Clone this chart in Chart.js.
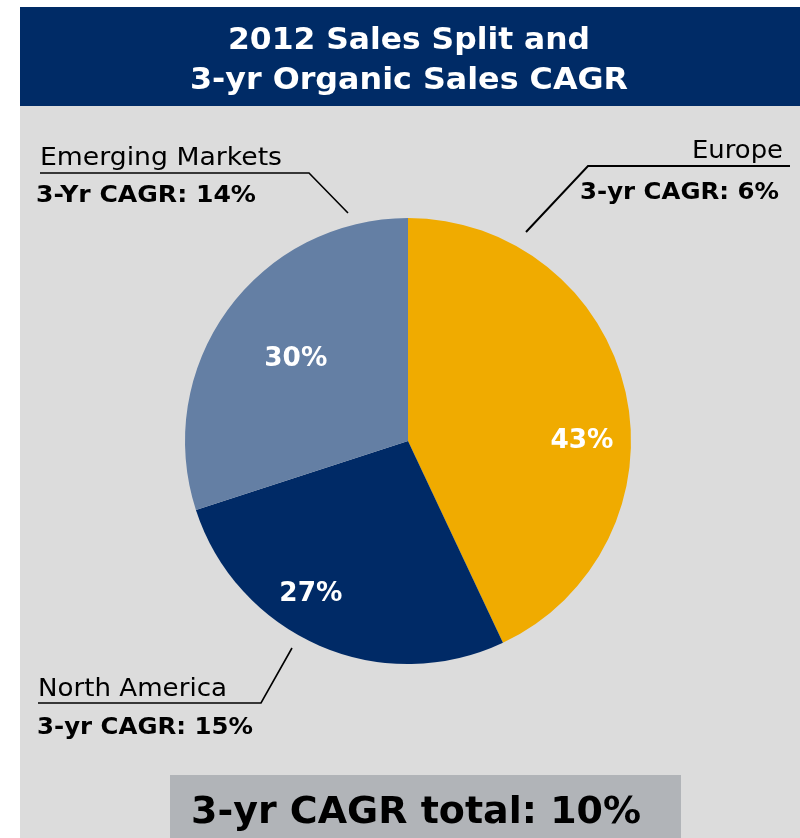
<!DOCTYPE html>
<html>
<head>
<meta charset="utf-8">
<script src="https://cdn.jsdelivr.net/npm/chart.js@4"></script>
<style>
html,body{margin:0;padding:0;background:#ffffff;}
canvas{display:block;}
</style>
</head>
<body>
<canvas id="c" width="800" height="838"></canvas>
<script>
// ---- data ----
const regions = ['Europe', 'North America', 'Emerging Markets'];
const salesShare = [43, 27, 30];
const cagrLabels = ['3-yr CAGR: 6%', '3-yr CAGR: 15%', '3-Yr CAGR: 14%'];
const titleLines = ['2012 Sales Split and', '3-yr Organic Sales CAGR'];
const totalLabel = '3-yr CAGR total: 10%';

// ---- style ----
const sliceColors = ['#F0AB00', '#002A66', '#647FA4'];
const FONT = '"DejaVu Sans", Verdana, sans-serif';

function fitText(ctx, text, x, y, font, color, align, width) {
  ctx.save();
  ctx.font = font;
  ctx.fillStyle = color;
  ctx.textBaseline = 'alphabetic';
  ctx.textAlign = align;
  const w = ctx.measureText(text).width;
  const sx = width ? width / w : 1;
  ctx.translate(x, y);
  ctx.scale(sx, 1);
  ctx.fillText(text, 0, 0);
  ctx.restore();
}
function poly(ctx, pts, lw) {
  ctx.save();
  ctx.strokeStyle = '#000000';
  ctx.lineWidth = lw;
  ctx.beginPath();
  ctx.moveTo(pts[0][0], pts[0][1]);
  for (let i = 1; i < pts.length; i++) ctx.lineTo(pts[i][0], pts[i][1]);
  ctx.stroke();
  ctx.restore();
}

// label placement inside slices: angle (deg clockwise from top) and radius fraction
const pctPlacement = [[89, 0.78], [213, 0.80], [307, 0.63]];

const decor = {
  id: 'decor',
  beforeDraw(chart) {
    const ctx = chart.ctx;
    ctx.save();
    ctx.fillStyle = '#ffffff';
    ctx.fillRect(0, 0, 800, 838);
    ctx.fillStyle = '#002B66';
    ctx.fillRect(20, 7, 780, 99);
    ctx.fillStyle = '#DCDCDC';
    ctx.fillRect(20, 106, 780, 732);
    ctx.fillStyle = '#B1B4B8';
    ctx.fillRect(170, 775, 511, 63);
    ctx.restore();
    fitText(ctx, titleLines[0], 409, 49, 'bold 31px ' + FONT, '#ffffff', 'center', 362);
    fitText(ctx, titleLines[1], 409, 89, 'bold 31px ' + FONT, '#ffffff', 'center', 438);
    fitText(ctx, totalLabel, 191, 823, 'bold 38px ' + FONT, '#000000', 'left', 450);
  },
  afterDraw(chart) {
    const ctx = chart.ctx;
    const meta = chart.getDatasetMeta(0);
    meta.data.forEach((arc, i) => {
      const p = pctPlacement[i];
      const a = p[0] * Math.PI / 180;
      const r = arc.outerRadius * p[1];
      const x = arc.x + r * Math.sin(a);
      const y = arc.y - r * Math.cos(a);
      fitText(ctx, salesShare[i] + '%', x, y + 10, 'bold 27px ' + FONT, '#ffffff', 'center', 63);
    });
    // Europe
    fitText(ctx, regions[0], 783, 158, '25px ' + FONT, '#000000', 'right', 91);
    fitText(ctx, cagrLabels[0], 779, 199, 'bold 23px ' + FONT, '#000000', 'right', 199);
    poly(ctx, [[790, 166], [588, 166], [526, 232]], 2);
    // North America
    fitText(ctx, regions[1], 38, 696, '25px ' + FONT, '#000000', 'left', 189);
    fitText(ctx, cagrLabels[1], 37, 734, 'bold 23px ' + FONT, '#000000', 'left', 216);
    poly(ctx, [[38, 703], [261, 703], [292, 648]], 1.6);
    // Emerging Markets
    fitText(ctx, regions[2], 40, 165, '25px ' + FONT, '#000000', 'left', 242);
    fitText(ctx, cagrLabels[2], 36, 202, 'bold 23px ' + FONT, '#000000', 'left', 220);
    poly(ctx, [[40, 173], [309, 173], [348, 213]], 1.6);
  }
};

new Chart(document.getElementById('c'), {
  type: 'pie',
  data: {
    labels: regions,
    datasets: [{
      data: salesShare,
      backgroundColor: sliceColors,
      borderWidth: 0,
      hoverOffset: 0
    }]
  },
  options: {
    responsive: false,
    animation: false,
    layout: { padding: { left: 185, right: 169, top: 218, bottom: 174 } },
    plugins: {
      legend: { display: false },
      tooltip: { enabled: false },
      title: { display: false }
    }
  },
  plugins: [decor]
});
</script>
</body>
</html>
